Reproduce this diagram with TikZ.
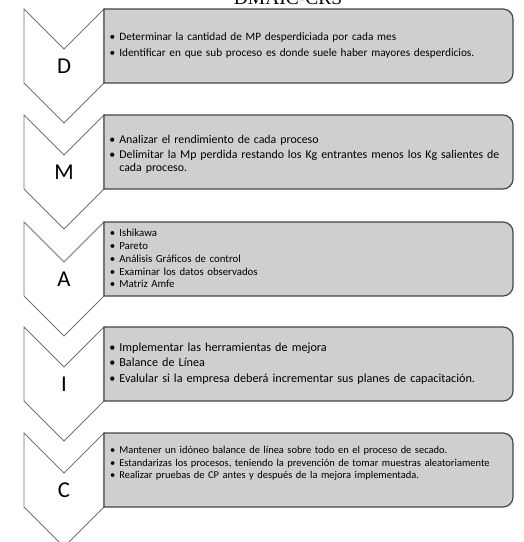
\documentclass[tikz,border=0pt]{standalone}
\usepackage{fontspec}
\setmainfont{Liberation Serif}
\newfontfamily\boxfont{Carlito}
\usepackage{enumitem}
\usepackage{xcolor}
\usetikzlibrary{calc,positioning}
\definecolor{boxfill}{RGB}{207,207,207}
\definecolor{boxline}{RGB}{70,70,70}
\definecolor{chevline}{RGB}{115,115,115}
\setlist[itemize]{label=\textbullet, leftmargin=6.8pt, labelsep=3pt, nosep}

\begin{document}
\begin{tikzpicture}[x=0.75pt,y=-0.75pt]
		\tikzstyle{chevron}=[draw=chevline, line width=0.7pt, fill=white, line join=miter]
		\tikzstyle{stepbox}=[draw=boxline, line width=0.9pt, fill=boxfill]
		\tikzstyle{letter}=[font=\boxfont\fontsize{17}{17}\selectfont]
		\tikzstyle{items}=[anchor=west, text width=300pt, inner sep=0pt, align=left]
		\useasboundingbox (0,0) rectangle (524,542);
		\node [font=\fontsize{14.6}{15}\selectfont, anchor=base] (title) at (288,5) {DMAIC-CRS};
		% chevrons and boxes, one per step
		\foreach \t/\l in {9/D,115/M,222/A,327/I,433/C}{
			\draw [chevron] (24,\t) -- (64,\t+40) -- (104,\t) -- (104,\t+74) -- (64,\t+114) -- (24,\t+74) -- cycle;
			\draw [stepbox] (104,\t) -- (503,\t) arc[start angle=-90, end angle=0, radius=10] -- (513,\t+64) arc[start angle=0, end angle=90, radius=10] -- (104,\t+74) -- cycle;
			\node [letter] (letter\l) at (64,\t+57) {\l};
		}
		\node [items, font=\boxfont\fontsize{8.45}{12}\selectfont] (textD) at (110,41) {\begin{itemize}
			\item Determinar la cantidad de MP desperdiciada por cada mes
			\item Identificar en que sub proceso es donde suele haber mayores desperdicios.
		\end{itemize}};
		\node [items, font=\boxfont\fontsize{8.9}{9.8}\selectfont] (textM) at (110,152) {\begin{itemize}[itemsep=1.5pt]
			\item Analizar el rendimiento de cada proceso
			\item Delimitar la Mp perdida restando los Kg entrantes menos los Kg salientes de\newline cada proceso.
		\end{itemize}};
		\node [items, font=\boxfont\fontsize{8.1}{9.6}\selectfont] (textA) at (110,256) {\begin{itemize}
			\item Ishikawa
			\item Pareto
			\item Análisis Gráficos de control
			\item Examinar los datos observados
			\item Matriz Amfe
		\end{itemize}};
		\node [items, font=\boxfont\fontsize{9.15}{11.6}\selectfont] (textI) at (110,360) {\begin{itemize}
			\item Implementar las herramientas de mejora
			\item Balance de Línea
			\item Evalular si la empresa deberá incrementar sus planes de capacitación.
		\end{itemize}};
		\node [items, font=\boxfont\fontsize{7.85}{9.4}\selectfont] (textC) at (110,461) {\begin{itemize}
			\item Mantener un idóneo balance de línea sobre todo en el proceso de secado.
			\item Estandarizas los procesos, teniendo la prevención de tomar muestras aleatoriamente
			\item Realizar pruebas de CP antes y después de la mejora implementada.
		\end{itemize}};
	\end{tikzpicture}
\end{document}
